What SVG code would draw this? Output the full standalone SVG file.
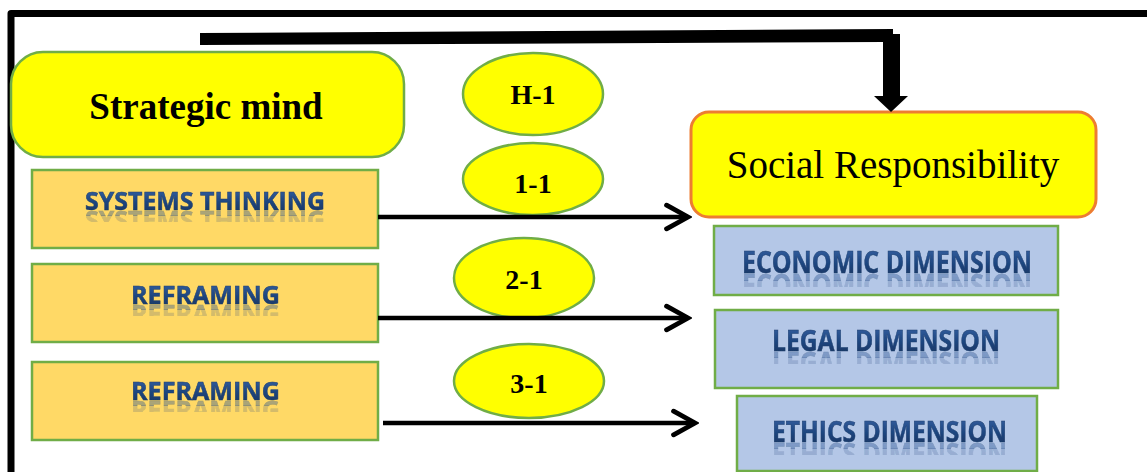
<svg xmlns="http://www.w3.org/2000/svg" width="1147" height="472" viewBox="0 0 1147 472">
  <style>
    .ybox { fill: #FFFF00; stroke: #70AD47; stroke-width: 2.5; }
    .obox { fill: #FFD966; stroke: #70AD47; stroke-width: 2.5; }
    .bbox { fill: #B4C7E7; stroke: #70AD47; stroke-width: 2.5; }
    .ell { fill: #FFFF00; stroke: #70AD47; stroke-width: 2.5; }
    .tb { font-family: "Liberation Serif", "Times New Roman", serif; font-weight: bold; fill: #000; text-anchor: middle; }
    .tr { font-family: "Liberation Serif", "Times New Roman", serif; fill: #000; text-anchor: middle; }
    .wa { font-family: "Open Sans", "Noto Sans", sans-serif; font-weight: bold; fill: url(#waGrad); stroke: #1E3F6E; stroke-width: 0.5; filter: url(#refl); }
    .conn { stroke: #000; stroke-width: 4.5; fill: none; marker-end: url(#chev); }
  </style>
  <defs>
    <linearGradient id="waGrad" x1="0" y1="0" x2="0" y2="1">
      <stop offset="0" stop-color="#3E6AAE"/>
      <stop offset="0.55" stop-color="#1E4680"/>
      <stop offset="1" stop-color="#152F56"/>
    </linearGradient>
    <filter id="refl" x="-0.05" y="-0.1" width="1.1" height="1.7" primitiveUnits="objectBoundingBox">
      <feOffset in="SourceGraphic" dx="0" dy="0.56" result="off"/>
      <feColorMatrix in="off" type="matrix" values="1 0 0 0 0  0 1 0 0 0  0 0 1 0 0  0 0 0 0.4 0" y="0.8" height="0.16" result="a1"/>
      <feColorMatrix in="off" type="matrix" values="1 0 0 0 0  0 1 0 0 0  0 0 1 0 0  0 0 0 0.2 0" y="0.96" height="0.16" result="a2"/>
      <feMerge>
        <feMergeNode in="a1"/>
        <feMergeNode in="a2"/>
        <feMergeNode in="SourceGraphic"/>
      </feMerge>
    </filter>
    <marker id="chev" markerUnits="userSpaceOnUse" markerWidth="30" markerHeight="30" viewBox="-24 -14 28 28" refX="0" refY="0" orient="auto">
      <path d="M-20,-11 L0,0 L-20,11" fill="none" stroke="#000" stroke-width="4.5" stroke-linecap="round" stroke-linejoin="miter"/>
    </marker>
  </defs>

  <rect width="1147" height="472" fill="#fff"/>

  <g id="frame">
    <path d="M11,472 V13.5 H1147" fill="none" stroke="#000" stroke-width="7" stroke-linejoin="round"/>
  </g>

  <g id="strategic-mind">
    <rect class="ybox" x="11" y="52" width="393" height="105" rx="32"/>
    <text class="tb" x="206" y="119" font-size="37">Strategic mind</text>
  </g>

  <g id="systems-thinking">
    <rect class="obox" x="32" y="170" width="346" height="78"/>
    <text class="wa" x="85" y="210" font-size="25" textLength="240" lengthAdjust="spacingAndGlyphs">SYSTEMS THINKING</text>
  </g>

  <g id="reframing-1">
    <rect class="obox" x="32" y="264" width="346" height="78"/>
    <text class="wa" x="131" y="304" font-size="25" textLength="149" lengthAdjust="spacingAndGlyphs">REFRAMING</text>
  </g>

  <g id="reframing-2">
    <rect class="obox" x="32" y="362" width="346" height="78"/>
    <text class="wa" x="131" y="400" font-size="25" textLength="149" lengthAdjust="spacingAndGlyphs">REFRAMING</text>
  </g>

  <g id="h-1">
    <ellipse class="ell" cx="533" cy="94" rx="70" ry="41"/>
    <text class="tb" x="533" y="104" font-size="28">H-1</text>
  </g>

  <g id="e-1-1">
    <ellipse class="ell" cx="533" cy="179" rx="70" ry="36"/>
    <text class="tb" x="533" y="193" font-size="28">1-1</text>
  </g>

  <g id="e-2-1">
    <ellipse class="ell" cx="524" cy="278" rx="70" ry="40"/>
    <text class="tb" x="524" y="289" font-size="28">2-1</text>
  </g>

  <g id="e-3-1">
    <ellipse class="ell" cx="529" cy="381" rx="75" ry="37"/>
    <text class="tb" x="529" y="393" font-size="28">3-1</text>
  </g>

  <g id="social-responsibility">
    <rect x="691" y="112" width="405" height="105" rx="18" fill="#FFFF00" stroke="#ED7D31" stroke-width="3"/>
    <text class="tr" x="893" y="178" font-size="39">Social Responsibility</text>
  </g>

  <g id="economic-dimension">
    <rect class="bbox" x="714" y="226" width="344" height="69"/>
    <text class="wa" x="742" y="273" font-size="30" textLength="290" lengthAdjust="spacingAndGlyphs">ECONOMIC DIMENSION</text>
  </g>

  <g id="legal-dimension">
    <rect class="bbox" x="715" y="310" width="343" height="78"/>
    <text class="wa" x="772" y="351" font-size="29" textLength="228" lengthAdjust="spacingAndGlyphs">LEGAL DIMENSION</text>
  </g>

  <g id="ethics-dimension">
    <rect class="bbox" x="737" y="396" width="300" height="75"/>
    <text class="wa" x="772" y="442" font-size="29" textLength="235" lengthAdjust="spacingAndGlyphs">ETHICS DIMENSION</text>
  </g>

  <g id="connectors">
    <polygon points="200,33 893,29 893,34 900,34 900,96 908,96 891,112 874,96 883,96 883,42 200,45" fill="#000"/>
    <line class="conn" x1="378" y1="217" x2="688" y2="217"/>
    <line class="conn" x1="378" y1="318" x2="688" y2="318"/>
    <line class="conn" x1="383" y1="423" x2="695" y2="423"/>
  </g>
</svg>
